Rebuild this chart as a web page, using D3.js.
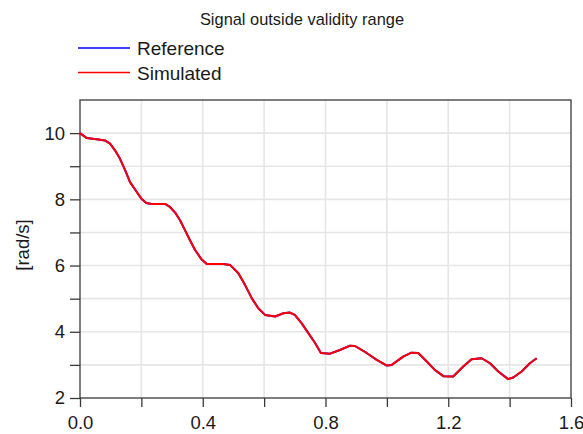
<!DOCTYPE html>
<html><head><meta charset="utf-8">
<script src="https://cdn.jsdelivr.net/npm/d3@7"></script>
<style>body{margin:0;background:#fff}svg{display:block;font-family:"Liberation Sans",Arial,sans-serif}</style>
</head><body><svg id="c" width="583" height="434"></svg>
<script>
const title = "Signal outside validity range";
const yLabel = "[rad/s]";
const seriesNames = ["Reference", "Simulated"];
const seriesColors = ["#0000ff", "#ff0000"];
const xTicks = [0, 0.2, 0.4, 0.6, 0.8, 1.0, 1.2, 1.4, 1.6];
const xTickLabels = ["0.0", "", "0.4", "", "0.8", "", "1.2", "", "1.6"];
const yTicks = [2, 3, 4, 5, 6, 7, 8, 9, 10, 11];
const yTickLabels = ["2", "", "4", "", "6", "", "8", "", "10", ""];
const time = [0, 0.022, 0.06, 0.081, 0.098, 0.114, 0.13, 0.147, 0.163, 0.185, 0.20, 0.216, 0.233, 0.277, 0.293, 0.31, 0.326, 0.342, 0.358, 0.375, 0.395, 0.413, 0.467, 0.489, 0.516, 0.538, 0.56, 0.581, 0.603, 0.636, 0.663, 0.684, 0.70, 0.722, 0.744, 0.766, 0.785, 0.815, 0.847, 0.88, 0.896, 0.934, 0.967, 1.0, 1.016, 1.053, 1.08, 1.102, 1.13, 1.156, 1.184, 1.216, 1.249, 1.276, 1.309, 1.336, 1.363, 1.395, 1.412, 1.439, 1.466, 1.488];
const reference = [10.0, 9.85, 9.81, 9.78, 9.68, 9.48, 9.23, 8.88, 8.52, 8.22, 8.02, 7.89, 7.86, 7.86, 7.77, 7.60, 7.37, 7.07, 6.77, 6.47, 6.2, 6.05, 6.05, 6.02, 5.77, 5.41, 5.01, 4.71, 4.51, 4.46, 4.56, 4.58, 4.51, 4.26, 3.96, 3.66, 3.36, 3.34, 3.45, 3.58, 3.57, 3.36, 3.15, 2.98, 3.0, 3.25, 3.37, 3.36, 3.10, 2.85, 2.66, 2.65, 2.95, 3.17, 3.20, 3.05, 2.80, 2.57, 2.62, 2.80, 3.05, 3.20];
const simulated = [10.0, 9.85, 9.81, 9.78, 9.68, 9.48, 9.23, 8.88, 8.52, 8.22, 8.02, 7.89, 7.86, 7.86, 7.77, 7.60, 7.37, 7.07, 6.77, 6.47, 6.2, 6.05, 6.05, 6.02, 5.77, 5.41, 5.01, 4.71, 4.51, 4.46, 4.56, 4.58, 4.51, 4.26, 3.96, 3.66, 3.36, 3.34, 3.45, 3.58, 3.57, 3.36, 3.15, 2.98, 3.0, 3.25, 3.37, 3.36, 3.10, 2.85, 2.66, 2.65, 2.95, 3.17, 3.20, 3.05, 2.80, 2.57, 2.62, 2.80, 3.05, 3.20];

const svg = d3.select("#c");
const L = 80, R = 571, T = 100, B = 398;
const x = d3.scaleLinear().domain([0, 1.6]).range([L, R]);
const y = d3.scaleLinear().domain([2, 11]).range([B, T]);
const FONT = "'Liberation Sans', Arial, sans-serif";
const INK = "#1a1a1a";

// grid
svg.append("g").selectAll("line").data(xTicks.slice(1, -1)).join("line")
  .attr("x1", d => x(d)).attr("x2", d => x(d)).attr("y1", T).attr("y2", B)
  .attr("stroke", "#e6e6e6").attr("stroke-width", 1.6);
svg.append("g").selectAll("line").data(yTicks.slice(1, -1)).join("line")
  .attr("x1", L).attr("x2", R).attr("y1", d => y(d)).attr("y2", d => y(d))
  .attr("stroke", "#e6e6e6").attr("stroke-width", 1.6);

// frame
svg.append("rect").attr("x", L).attr("y", T).attr("width", R - L).attr("height", B - T)
  .attr("fill", "none").attr("stroke", "#3a3a3a").attr("stroke-width", 1.3);

// axes
const xAxis = d3.axisBottom(x).tickValues(xTicks).tickSize(9).tickPadding(9)
  .tickFormat((d, i) => xTickLabels[i]);
const gx = svg.append("g").attr("transform", `translate(0,${B})`).call(xAxis);
const yAxis = d3.axisLeft(y).tickValues(yTicks.slice(0, -1)).tickSize(10).tickPadding(5)
  .tickFormat((d, i) => yTickLabels[i]);
const gy = svg.append("g").attr("transform", `translate(${L},0)`).call(yAxis);
[gx, gy].forEach(g => {
  g.select(".domain").remove();
  g.selectAll(".tick line").attr("stroke", "#3a3a3a").attr("stroke-width", 1.3);
  g.selectAll("text").attr("fill", INK).style("font-size", "18.5px").style("font-family", FONT);
});

// y label
svg.append("text").attr("transform", `translate(29,${(T + B) / 2 - 4}) rotate(-90)`)
  .attr("text-anchor", "middle").style("font-size", "18.5px").style("font-family", FONT)
  .attr("fill", INK).text(yLabel);

// title
svg.append("text").attr("x", 302).attr("y", 25).attr("text-anchor", "middle")
  .style("font-size", "16.4px").style("font-family", FONT).attr("fill", INK).text(title);

// legend
seriesNames.forEach((n, i) => {
  const yy = 48 + i * 24.5;
  svg.append("line").attr("x1", 78).attr("x2", 130).attr("y1", yy).attr("y2", yy)
    .attr("stroke", seriesColors[i]).attr("stroke-width", 1.5);
  svg.append("text").attr("x", 137).attr("y", yy + 7).style("font-size", "19px")
    .style("font-family", FONT).attr("fill", INK).text(n);
});

// lines
const line = d3.line().x((d, i) => x(time[i])).y(d => y(d));
[reference, simulated].forEach((s, i) => {
  svg.append("path").datum(s).attr("d", line).attr("fill", "none")
    .attr("stroke", seriesColors[i]).attr("stroke-width", 2).attr("stroke-linejoin", "round");
});
</script></body></html>
